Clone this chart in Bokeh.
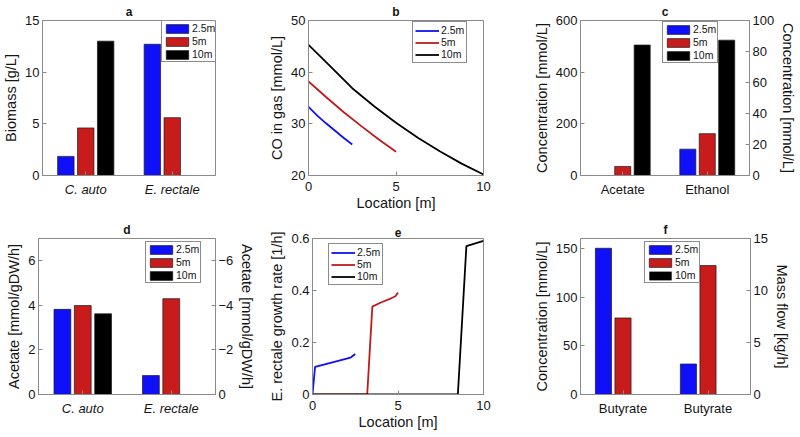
from bokeh.plotting import figure
from bokeh.models import (Range1d, LinearAxis, FixedTicker, Legend, LegendItem,
                          ColumnDataSource)
from bokeh.layouts import row, column
from bokeh.embed import file_html
from bokeh.resources import INLINE

# ---------------- data ----------------
series = ["2.5m", "5m", "10m"]

# (a) biomass [g/L], values in series order 2.5m, 5m, 10m
a_categories = ["C. auto", "E. rectale"]
a_cauto = [1.85, 4.6, 13.0]
a_erectale = [12.7, 5.6, 0.0]

# (b) CO in gas [mmol/L] vs location [m]
b_loc_25 = [0.0, 0.5, 1.0, 1.5, 2.0, 2.5]
b_co_25 = [33.3, 31.6, 30.1, 28.7, 27.3, 26.0]
b_loc_5 = [0.0, 1.0, 2.0, 3.0, 4.0, 5.0]
b_co_5 = [38.2, 35.2, 32.3, 29.6, 27.0, 24.6]
b_loc_10 = [0.0, 1.25, 2.5, 3.75, 5.0, 6.25, 7.5, 8.75, 10.0]
b_co_10 = [45.3, 41.1, 36.9, 33.4, 30.2, 27.3, 24.7, 22.3, 20.2]

# (c) concentration [mmol/L]: acetate on left axis, ethanol on right axis
c_categories = ["Acetate", "Ethanol"]
c_acetate = [0.0, 35.0, 505.0]
c_ethanol = [17.0, 27.0, 87.3]

# (d) acetate flux [mmol/gDW/h]: C. auto on left axis, E. rectale on right (reversed) axis
d_categories = ["C. auto", "E. rectale"]
d_cauto = [3.82, 3.99, 3.62]
d_erectale = [-0.85, -4.3, 0.0]

# (e) E. rectale growth rate [1/h] vs location [m]
e_loc_25 = [0.0, 0.15, 1.0, 2.0, 2.25, 2.5]
e_mu_25 = [0.0, 0.106, 0.121, 0.138, 0.143, 0.156]
e_loc_5 = [0.0, 3.2, 3.5, 4.0, 4.6, 4.85, 5.0]
e_mu_5 = [0.0, 0.0, 0.338, 0.354, 0.370, 0.378, 0.392]
e_loc_10 = [0.0, 8.5, 9.0, 10.0]
e_mu_10 = [0.0, 0.0, 0.571, 0.591]

# (f) butyrate: concentration [mmol/L] (left) and mass flow [kg/h] (right)
f_categories = ["Butyrate", "Butyrate"]
f_conc = [150.0, 78.5, 0.0]
f_flow = [2.93, 12.4, 0.0]

# ---------------- style ----------------
FONT = "Liberation Sans"
AX = "#8a8a8a"
TXT = "#151515"
BAR_COLORS = ["#1010f8", "#c81c1c", "#000000"]
LINE_COLORS = ["#1010f0", "#c01a1a", "#000000"]
OFFS = [-0.23, 0.0, 0.23]
BAR_W = 0.19

COLW = [266, 264, 269]
COLB = [(38, 51), (40, 47), (43, 49)]
ROWH = [213, 223]
ROWB = [(17, 38), (25, 42)]
LEG_H = 40


def frame_size(ci, ri):
    bl, br = COLB[ci]
    bt, bb = ROWB[ri]
    return COLW[ci] - bl - br, ROWH[ri] - bt - bb


def base_fig(ci, ri, xr, yr, title):
    bl, br = COLB[ci]
    bt, bb = ROWB[ri]
    p = figure(width=COLW[ci], height=ROWH[ri], x_range=xr, y_range=yr,
               output_backend="svg", toolbar_location=None, title=title,
               min_border_left=bl, min_border_right=br,
               min_border_top=bt, min_border_bottom=bb)
    p.title.align = "center"
    p.title.text_font = FONT
    p.title.text_font_size = "12px"
    p.title.text_font_style = "bold"
    p.title.text_color = TXT
    p.title.standoff = 4
    p.xgrid.visible = False
    p.ygrid.visible = False
    p.outline_line_color = AX
    p.outline_line_width = 1
    p.background_fill_color = "white"
    p.border_fill_color = "white"
    return p


def style_axis(ax, label=None, italic=False, standoff=3, lstandoff=3):
    ax.axis_line_color = AX
    ax.major_tick_line_color = AX
    ax.major_tick_in = 4
    ax.major_tick_out = 0
    ax.minor_tick_line_color = None
    ax.major_label_text_font = FONT
    ax.major_label_text_font_size = "13px"
    ax.major_label_text_color = TXT
    ax.major_label_standoff = standoff
    ax.axis_label_text_font = FONT
    ax.axis_label_text_font_size = "14.5px"
    ax.axis_label_text_font_style = "normal"
    ax.axis_label_text_color = TXT
    ax.axis_label_standoff = lstandoff
    if label:
        ax.axis_label = label
    if italic:
        ax.major_label_text_font_style = "italic"


def add_group(p, pos, vals, y_range_name="default"):
    src = ColumnDataSource(dict(
        x=[pos + o for o in OFFS], top=vals, color=BAR_COLORS,
        la=[1.0 if v != 0 else 0.0 for v in vals]))
    return p.vbar(x="x", top="top", width=BAR_W, source=src, fill_color="color",
                  line_color="#1a1a1a", line_width=0.7, line_alpha="la",
                  y_range_name=y_range_name)


def make_legend(items, loc, bars):
    return Legend(items=items, location=loc,
                  glyph_width=28 if bars else 24, glyph_height=11,
                  label_standoff=1 if bars else 2, padding=1 if bars else 2,
                  spacing=1 if bars else 0, label_height=12, label_width=10,
                  label_text_font=FONT, label_text_font_size="10.5px",
                  label_text_color=TXT, border_line_color="#1a1a1a",
                  border_line_width=1, background_fill_color="white",
                  background_fill_alpha=1.0)


def bar_legend(p, ci, ri, r, ox, oy):
    fw, fh = frame_size(ci, ri)
    items = [LegendItem(label=s, renderers=[r], index=k) for k, s in enumerate(series)]
    p.add_layout(make_legend(items, (ox, fh - oy - LEG_H), True))


def line_legend(p, ci, ri, rs, ox, oy):
    fw, fh = frame_size(ci, ri)
    items = [LegendItem(label=s, renderers=[r]) for s, r in zip(series, rs)]
    p.add_layout(make_legend(items, (ox, fh - oy - LEG_H), False))


def cat_xaxis(p, cats, italic):
    ax = p.xaxis[0]
    ax.ticker = FixedTicker(ticks=[1, 2])
    ax.major_label_overrides = {1: cats[0], 2: cats[1]}
    style_axis(ax, italic=italic, standoff=6, lstandoff=1)


# ---------------- panel a ----------------
pa = base_fig(0, 0, Range1d(0.5, 2.5), Range1d(0, 15), "a")
ra = add_group(pa, 1, a_cauto)
add_group(pa, 2, a_erectale)
cat_xaxis(pa, a_categories, True)
pa.yaxis[0].ticker = FixedTicker(ticks=[0, 5, 10, 15])
style_axis(pa.yaxis[0], "Biomass [g/L]")
bar_legend(pa, 0, 0, ra, 119, 5)

# ---------------- panel b ----------------
pb = base_fig(1, 0, Range1d(0, 10), Range1d(20, 50), "b")
rb = [pb.line(x, y, line_color=c, line_width=1.8)
      for x, y, c in zip([b_loc_25, b_loc_5, b_loc_10], [b_co_25, b_co_5, b_co_10], LINE_COLORS)]
pb.xaxis[0].ticker = FixedTicker(ticks=[0, 5, 10])
style_axis(pb.xaxis[0], "Location [m]", standoff=6, lstandoff=1)
pb.yaxis[0].ticker = FixedTicker(ticks=[20, 30, 40, 50])
style_axis(pb.yaxis[0], "CO in gas [mmol/L]")
line_legend(pb, 1, 0, rb, 104, 6)

# ---------------- panel c ----------------
pc = base_fig(2, 0, Range1d(0.5, 2.5), Range1d(0, 600), "c")
pc.extra_y_ranges = {"right": Range1d(0, 100)}
add_group(pc, 1, c_acetate)
rc = add_group(pc, 2, c_ethanol, "right")
cat_xaxis(pc, c_categories, False)
pc.yaxis[0].ticker = FixedTicker(ticks=[0, 200, 400, 600])
style_axis(pc.yaxis[0], "Concentration [mmol/L]")
axc = LinearAxis(y_range_name="right", ticker=FixedTicker(ticks=[0, 20, 40, 60, 80, 100]))
style_axis(axc, "Concentration [mmol/L]")
pc.add_layout(axc, "right")
bar_legend(pc, 2, 0, rc, 82, 6)

# ---------------- panel d ----------------
pd_ = base_fig(0, 1, Range1d(0.5, 2.5), Range1d(0, 7), "d")
pd_.extra_y_ranges = {"right": Range1d(0, -7)}
rd = add_group(pd_, 1, d_cauto)
add_group(pd_, 2, d_erectale, "right")
cat_xaxis(pd_, d_categories, True)
pd_.yaxis[0].ticker = FixedTicker(ticks=[0, 2, 4, 6])
style_axis(pd_.yaxis[0], "Acetate [mmol/gDW/h]")
axd = LinearAxis(y_range_name="right", ticker=FixedTicker(ticks=[0, -2, -4, -6]))
style_axis(axd, "Acetate [mmol/gDW/h]")
pd_.add_layout(axd, "right")
bar_legend(pd_, 0, 1, rd, 107, 5)

# ---------------- panel e ----------------
pe = base_fig(1, 1, Range1d(0, 10), Range1d(0, 0.6), "e")
re_ = [pe.line(x, y, line_color=c, line_width=1.8)
       for x, y, c in zip([e_loc_25, e_loc_5, e_loc_10], [e_mu_25, e_mu_5, e_mu_10], LINE_COLORS)]
pe.xaxis[0].ticker = FixedTicker(ticks=[0, 5, 10])
style_axis(pe.xaxis[0], "Location [m]", standoff=6, lstandoff=1)
pe.yaxis[0].ticker = FixedTicker(ticks=[0, 0.2, 0.4, 0.6])
pe.yaxis[0].major_label_overrides = {0: "0"}
style_axis(pe.yaxis[0], "E. rectale growth rate [1/h]")
line_legend(pe, 1, 1, re_, 16, 7)

# ---------------- panel f ----------------
pf = base_fig(2, 1, Range1d(0.5, 2.5), Range1d(0, 160), "f")
pf.extra_y_ranges = {"right": Range1d(0, 15)}
rf = add_group(pf, 1, f_conc)
add_group(pf, 2, f_flow, "right")
cat_xaxis(pf, f_categories, False)
pf.yaxis[0].ticker = FixedTicker(ticks=[0, 50, 100, 150])
style_axis(pf.yaxis[0], "Concentration [mmol/L]")
axf = LinearAxis(y_range_name="right", ticker=FixedTicker(ticks=[0, 5, 10, 15]))
style_axis(axf, "Mass flow [kg/h]")
pf.add_layout(axf, "right")
bar_legend(pf, 2, 1, rf, 64, 5)

layout = column(row(pa, pb, pc), row(pd_, pe, pf))
open("out.html", "w").write(file_html(layout, INLINE))
